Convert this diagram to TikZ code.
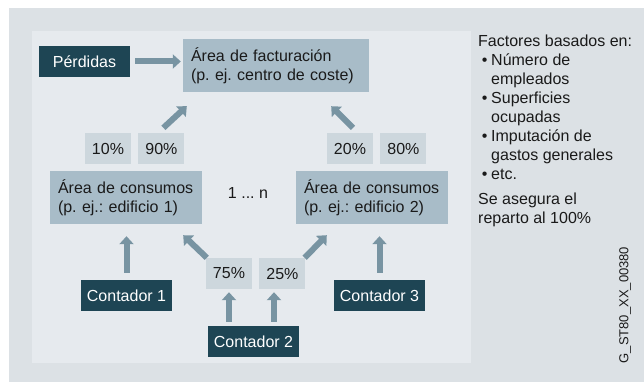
\documentclass[tikz,border=0pt]{standalone}
\usepackage{fontspec}
\setmainfont{Liberation Sans}
\usetikzlibrary{arrows.meta,positioning}
\definecolor{pagebg}{HTML}{DCE1E5}
\definecolor{panelbg}{HTML}{E6EAEE}
\definecolor{darkbox}{HTML}{1E4554}
\definecolor{areabox}{HTML}{A8BCC8}
\definecolor{pctbox}{HTML}{CDD7DD}
\definecolor{flowcol}{HTML}{7894A2}
\definecolor{txt}{HTML}{1A1A1A}
\frenchspacing

\begin{document}
\begin{tikzpicture}[
    x=1pt, y=-1pt,
    font=\fontsize{16}{19}\selectfont,
    node distance=7pt,
    meter/.style={fill=darkbox, text=white, minimum width=91pt, minimum height=31pt, inner sep=0pt},
    area/.style={fill=areabox, text=txt, align=left, text width=136pt, minimum height=53pt, inner xsep=8pt, inner ysep=0pt},
    pct/.style={fill=pctbox, text=txt, minimum width=46pt, minimum height=31pt, inner sep=0pt},
    flow/.style={draw=flowcol, line width=6pt, -{Triangle[width=14pt,length=8pt]}}
]
\fill[white] (0,0) rectangle (644,382);
\fill[pagebg] (9,8) rectangle (644,382);
\fill[panelbg] (32,31) rectangle (471,363);
\useasboundingbox (0,0) rectangle (644,382);
\node[meter] (loss) at (84.5,61.5) {Pérdidas};
\node[area, text width=170pt] (billing) at (276,65.5) {Área de facturación\\(p. ej. centro de coste)};
\node[pct] (p10) at (108,148.5) {10\%};
\node[pct, right=of p10] (p90) {90\%};
\node[pct] (p20) at (350,148.5) {20\%};
\node[pct, right=of p20] (p80) {80\%};
\node[area] (cons1) at (126,197.5) {Área de consumos\\(p. ej.: edificio 1)};
\node[area] (cons2) at (372,197.5) {Área de consumos\\(p. ej.: edificio 2)};
\node[text=txt] (range) at (248,193) {1 ... n};
\node[meter] (meter1) at (126.5,295.5) {Contador 1};
\node[meter] (meter3) at (379.5,295.5) {Contador 3};
\node[pct] (p75) at (229,273.5) {75\%};
\node[pct, right=of p75] (p25) {25\%};
\node[meter] (meter2) at (253.5,341.5) {Contador 2};
\node[text=txt, anchor=north west, align=left, inner sep=0pt] (factors) at (478,35)
    {Factores basados en:\\
     \makebox[13pt]{•}Número de\\
     \hspace*{13pt}empleados\\
     \makebox[13pt]{•}Superficies\\
     \hspace*{13pt}ocupadas\\
     \makebox[13pt]{•}Imputación de\\
     \hspace*{13pt}gastos generales\\
     \makebox[13pt]{•}etc.\\[6pt]
     Se asegura el\\
     reparto al 100\%};
\node[text=txt, font=\fontsize{13}{15}\selectfont, rotate=90] (code) at (625,305) {G\_ST80\_XX\_00380};
\draw[flow, shorten <=5pt, shorten >=2pt] (loss.east) -- (loss.east -| billing.west);
\draw[flow] ([xshift=2pt,yshift=5pt]p90.north) -- ([xshift=4pt,yshift=-14pt]billing.south west);
\draw[flow] ([xshift=3pt,yshift=5pt]p20.north) -- ([xshift=-38pt,yshift=-14pt]billing.south east);
\draw[flow, shorten <=7pt, shorten >=12pt] (meter1.north) -- (meter1.north |- cons1.south);
\draw[flow, shorten <=7pt, shorten >=12pt] (meter3.north) -- (meter3.north |- cons2.south);
\draw[flow] ([xshift=1pt]p75.north west) -- ([xshift=-19pt,yshift=-11pt]cons1.south east);
\draw[flow] ([xshift=-1pt]p25.north east) -- ([xshift=31pt,yshift=-11pt]cons2.south west);
\draw[flow, shorten <=4pt, shorten >=3pt] (meter2.north -| p75.south) -- (p75.south);
\draw[flow, shorten <=4pt, shorten >=3pt] ([xshift=20.5pt]meter2.north) -- ([xshift=20.5pt]meter2.north |- p25.south);
\end{tikzpicture}
\end{document}
